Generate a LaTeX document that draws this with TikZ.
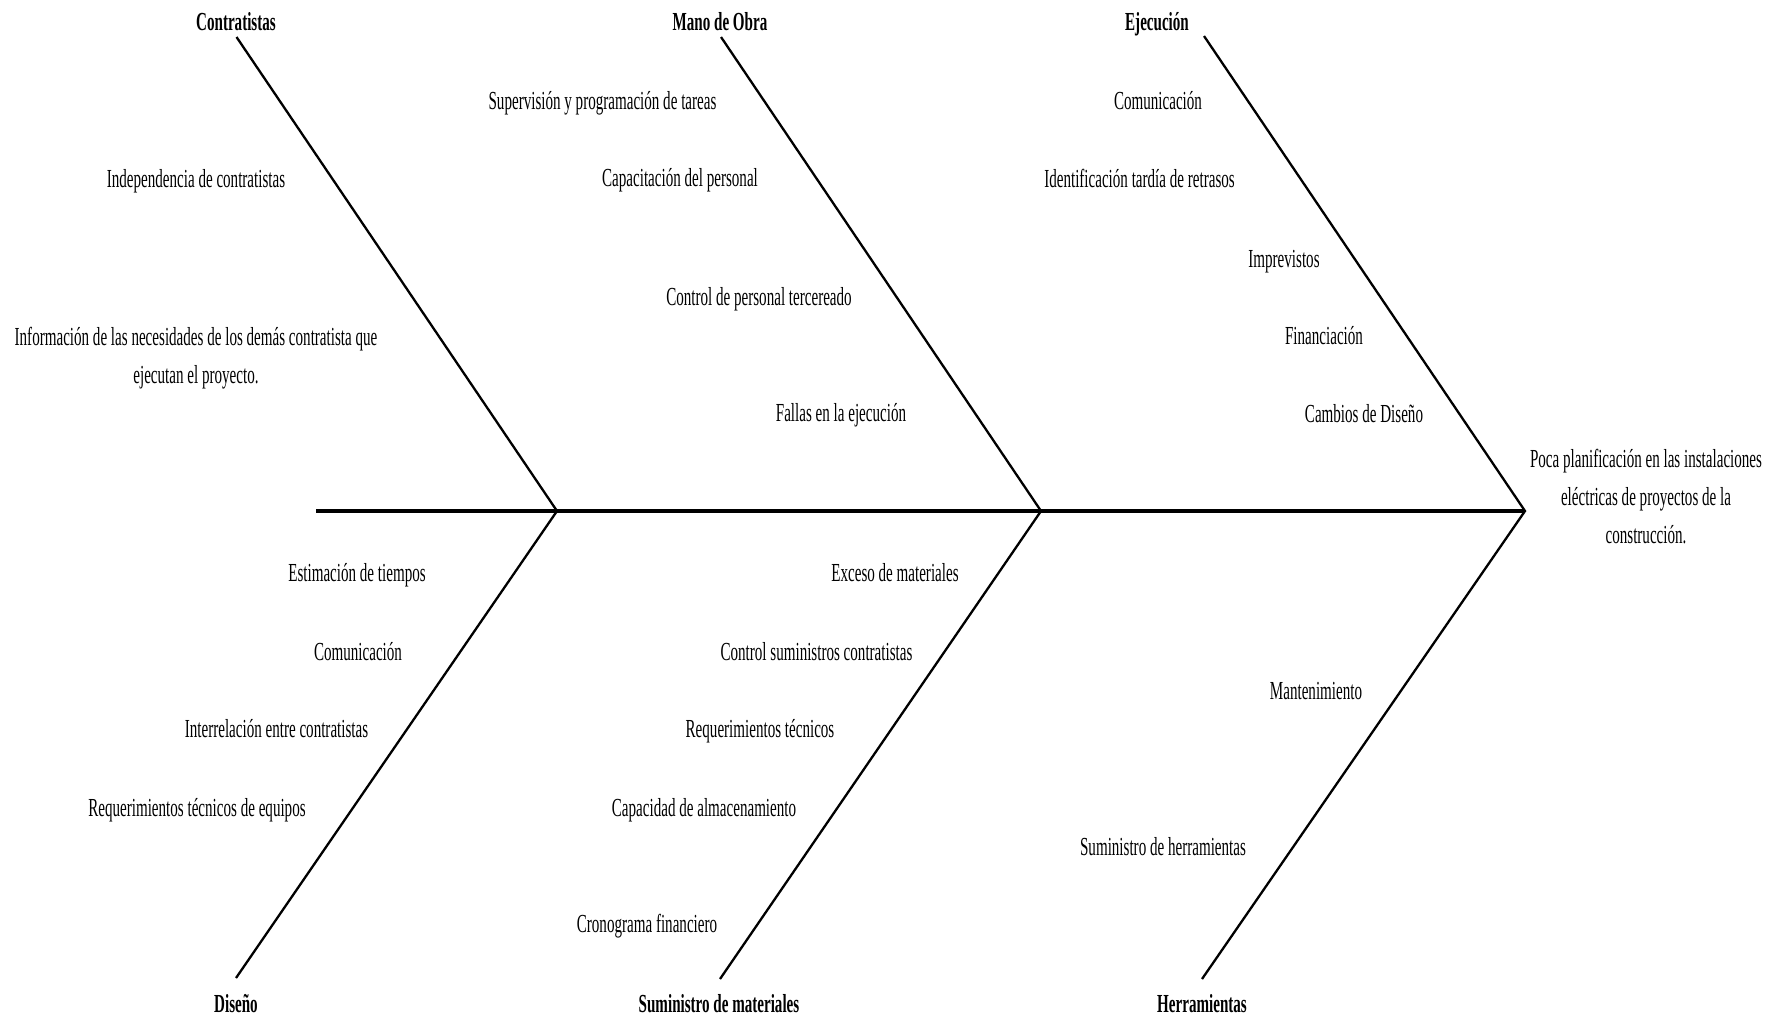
\documentclass[tikz,border=0pt]{standalone}
\usepackage{fontspec}
\setmainfont[FakeStretch=0.58]{Liberation Serif}
\begin{document}
\begin{tikzpicture}[x=1pt,y=-1pt,
  cause/.style={anchor=base, inner sep=0pt, align=center,
    font=\fontsize{26}{38}\selectfont},
  category/.style={cause, font=\fontsize{26}{38}\selectfont\bfseries},
  bone/.style={line width=2.3pt, line join=miter},
  spine/.style={line width=3.6pt}]
\useasboundingbox[fill=white] (0,0) rectangle (1782,1020);

% spine and the points where the bones meet it
\coordinate (tail) at (316,511);
\coordinate (j1) at (557,511);
\coordinate (j2) at (1041,511);
\coordinate (head) at (1525,511);
\draw[spine] (tail) -- (j1) -- (j2) -- (head);

% free ends of the bones, below / above the category titles
\coordinate (cT) at (236.5,37);
\coordinate (mT) at (721,37);
\coordinate (eT) at (1204,36);
\coordinate (dB) at (236,978);
\coordinate (sB) at (720,979);
\coordinate (hB) at (1202,979);

\draw[bone] (cT) -- (j1) -- (dB);
\draw[bone] (mT) -- (j2) -- (sB);
\draw[bone] (eT) -- (head) -- (hB);

% category titles
\node[category] (contratistas) at (236,30) {Contratistas};
\node[category] (manoobra) at (720,30) {Mano de Obra};
\node[category] (ejecucion) at (1157,30) {Ejecución};
\node[category] (diseno) at (236,1012) {Diseño};
\node[category] (suministro) at (719,1012) {Suministro de materiales};
\node[category] (herramientas) at (1202,1012) {Herramientas};

% effect (base anchor sits on the last line)
\node[cause] (efecto) at (1646,543) {Poca planificación en las instalaciones\\eléctricas de proyectos de la\\construcción.};

% Contratistas
\node[cause] (c1) at (196,187) {Independencia de contratistas};
\node[cause] (c2) at (196,383) {Información de las necesidades de los demás contratista que\\ejecutan el proyecto.};

% Mano de Obra
\node[cause] (m1) at (602.5,109) {Supervisión y programación de tareas};
\node[cause] (m2) at (680,186) {Capacitación del personal};
\node[cause] (m3) at (759,305) {Control de personal tercereado};
\node[cause] (m4) at (841,421) {Fallas en la ejecución};

% Ejecución
\node[cause] (e1) at (1158,109) {Comunicación};
\node[cause] (e2) at (1139.5,187) {Identificación tardía de retrasos};
\node[cause] (e3) at (1284,267) {Imprevistos};
\node[cause] (e4) at (1324,344) {Financiación};
\node[cause] (e5) at (1364,422) {Cambios de Diseño};

% Diseño
\node[cause] (d1) at (357,581) {Estimación de tiempos};
\node[cause] (d2) at (358,660) {Comunicación};
\node[cause] (d3) at (276.5,737) {Interrelación entre contratistas};
\node[cause] (d4) at (197,816) {Requerimientos técnicos de equipos};

% Suministro de materiales
\node[cause] (s1) at (895,581) {Exceso de materiales};
\node[cause] (s2) at (816.5,660) {Control suministros contratistas};
\node[cause] (s3) at (760,737) {Requerimientos técnicos};
\node[cause] (s4) at (704,816) {Capacidad de almacenamiento};
\node[cause] (s5) at (647,932) {Cronograma financiero};

% Herramientas
\node[cause] (h1) at (1316,699) {Mantenimiento};
\node[cause] (h2) at (1163,855) {Suministro de herramientas};
\end{tikzpicture}
\end{document}
